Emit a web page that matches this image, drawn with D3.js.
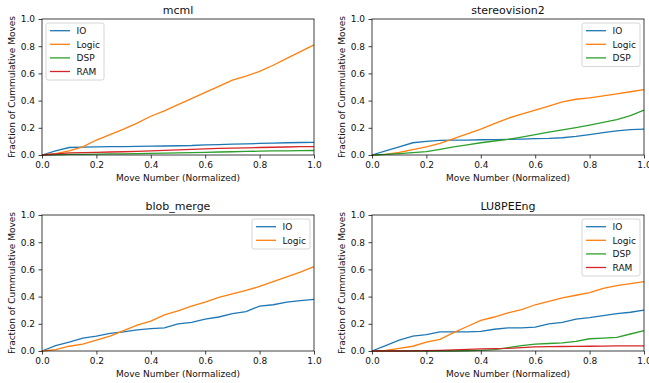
<!DOCTYPE html>
<meta charset="utf-8">
<head>
  <script src="https://d3js.org/d3.v7.min.js"></script>
  <style>
    body { margin: 0; background: white; }
    text { font-family: "DejaVu Sans", sans-serif; fill: #111; }
  </style>
</head>
<body>
<div id="chart"></div>
<script>
  // x positions of the samples (normalized move number)
  var xs = [0, 0.05, 0.1, 0.15, 0.2, 0.25, 0.3, 0.35, 0.4, 0.45, 0.5,
            0.55, 0.6, 0.65, 0.7, 0.75, 0.8, 0.85, 0.9, 0.95, 1.0];

  var mcmlIO    = [0, 0.03, 0.055, 0.058, 0.06, 0.061, 0.062, 0.063, 0.065, 0.066, 0.068, 0.07, 0.075, 0.077, 0.08, 0.082, 0.085, 0.087, 0.09, 0.092, 0.093];
  var mcmlLogic = [0, 0.01, 0.03, 0.06, 0.11, 0.15, 0.19, 0.235, 0.285, 0.325, 0.37, 0.415, 0.46, 0.505, 0.55, 0.58, 0.615, 0.66, 0.71, 0.76, 0.81];
  var mcmlDSP   = [0, 0.002, 0.004, 0.005, 0.006, 0.008, 0.009, 0.01, 0.012, 0.014, 0.016, 0.018, 0.02, 0.022, 0.024, 0.026, 0.028, 0.03, 0.031, 0.032, 0.033];
  var mcmlRAM   = [0, 0.008, 0.015, 0.018, 0.02, 0.022, 0.024, 0.027, 0.03, 0.034, 0.038, 0.041, 0.045, 0.048, 0.05, 0.053, 0.055, 0.057, 0.059, 0.061, 0.062];

  var stereoIO    = [0, 0.03, 0.06, 0.09, 0.1, 0.108, 0.11, 0.11, 0.112, 0.113, 0.115, 0.117, 0.12, 0.122, 0.127, 0.137, 0.15, 0.165, 0.178, 0.186, 0.19];
  var stereoLogic = [0, 0.005, 0.02, 0.04, 0.06, 0.085, 0.12, 0.155, 0.19, 0.23, 0.27, 0.3, 0.33, 0.36, 0.39, 0.41, 0.42, 0.435, 0.45, 0.465, 0.48];
  var stereoDSP   = [0, 0.004, 0.01, 0.017, 0.025, 0.042, 0.06, 0.075, 0.09, 0.103, 0.115, 0.132, 0.15, 0.168, 0.185, 0.202, 0.22, 0.24, 0.26, 0.29, 0.33];

  var blobIO    = [0, 0.04, 0.065, 0.095, 0.11, 0.13, 0.14, 0.155, 0.165, 0.17, 0.2, 0.21, 0.235, 0.25, 0.275, 0.29, 0.33, 0.34, 0.36, 0.37, 0.38];
  var blobLogic = [0, 0.01, 0.035, 0.05, 0.08, 0.11, 0.15, 0.19, 0.22, 0.265, 0.295, 0.33, 0.36, 0.395, 0.42, 0.445, 0.475, 0.51, 0.545, 0.58, 0.62];

  var luIO    = [0, 0.04, 0.08, 0.11, 0.12, 0.14, 0.14, 0.14, 0.145, 0.16, 0.17, 0.17, 0.175, 0.2, 0.21, 0.235, 0.245, 0.26, 0.275, 0.285, 0.3];
  var luLogic = [0, 0.005, 0.02, 0.035, 0.065, 0.085, 0.135, 0.18, 0.225, 0.25, 0.28, 0.305, 0.34, 0.365, 0.39, 0.41, 0.43, 0.46, 0.48, 0.495, 0.51];
  var luDSP   = [0, 0, 0, 0, 0, 0, 0, 0.002, 0.005, 0.01, 0.025, 0.04, 0.05, 0.055, 0.06, 0.07, 0.09, 0.095, 0.1, 0.125, 0.15];
  var luRAM   = [0, 0, 0, 0.001, 0.003, 0.005, 0.008, 0.012, 0.015, 0.018, 0.02, 0.025, 0.03, 0.032, 0.033, 0.034, 0.035, 0.036, 0.037, 0.038, 0.038];

  var ticks = [0, 0.2, 0.4, 0.6, 0.8, 1.0];
  var colors = { IO: "#1f77b4", Logic: "#ff7f0e", DSP: "#2ca02c", RAM: "#d62728" };

  var panels = [
    { title: "mcml", left: 42, top: 19, legend: "left",
      series: [["IO", mcmlIO], ["Logic", mcmlLogic], ["DSP", mcmlDSP], ["RAM", mcmlRAM]] },
    { title: "stereovision2", left: 372, top: 19, legend: "right",
      series: [["IO", stereoIO], ["Logic", stereoLogic], ["DSP", stereoDSP]] },
    { title: "blob_merge", left: 42, top: 215, legend: "right",
      series: [["IO", blobIO], ["Logic", blobLogic]] },
    { title: "LU8PEEng", left: 372, top: 215, legend: "right",
      series: [["IO", luIO], ["Logic", luLogic], ["DSP", luDSP], ["RAM", luRAM]] }
  ];

  var w = 272, h = 136;

  var svg = d3.select("#chart").append("svg")
    .attr("width", 649).attr("height", 383);

  panels.forEach(function (p) {
    var g = svg.append("g").attr("transform", "translate(" + p.left + "," + p.top + ")");
    var x = d3.scaleLinear().domain([0, 1]).range([0, w]);
    var y = d3.scaleLinear().domain([0, 1]).range([h, 0]);

    var line = d3.line()
      .x(function (d, i) { return x(xs[i]); })
      .y(function (d) { return y(d); });

    p.series.forEach(function (s) {
      g.append("path")
        .datum(s[1])
        .attr("d", line)
        .attr("fill", "none")
        .attr("stroke", colors[s[0]])
        .attr("stroke-width", 1.3);
    });

    var xa = g.append("g").attr("transform", "translate(0," + h + ")")
      .call(d3.axisBottom(x).tickValues(ticks).tickFormat(d3.format(".1f")).tickSize(3.5).tickPadding(3.5));
    var ya = g.append("g")
      .call(d3.axisLeft(y).tickValues(ticks).tickFormat(d3.format(".1f")).tickSize(3.5).tickPadding(3.5));
    [xa, ya].forEach(function (a) {
      a.select(".domain").remove();
      a.selectAll("line").attr("stroke", "#111").attr("stroke-width", 0.8);
      a.selectAll("text").style("font-size", "9px").attr("fill", "#111")
        .style("font-family", "'DejaVu Sans', sans-serif");
    });

    g.append("rect").attr("width", w).attr("height", h)
      .attr("fill", "none").attr("stroke", "#111").attr("stroke-width", 0.8);

    g.append("text").attr("x", w / 2).attr("y", -5)
      .attr("text-anchor", "middle").style("font-size", "11px").text(p.title);
    g.append("text").attr("x", w / 2).attr("y", h + 26)
      .attr("text-anchor", "middle").style("font-size", "9px").text("Move Number (Normalized)");
    g.append("text")
      .attr("transform", "translate(-27," + (h / 2) + ") rotate(-90)")
      .attr("text-anchor", "middle").style("font-size", "9px").text("Fraction of Cummulative Moves");

    // legend
    var n = p.series.length;
    var lw = 58;
    var lx = p.legend === "left" ? 4 : w - lw - 4;
    var lg = g.append("g").attr("transform", "translate(" + lx + ",4)");
    lg.append("rect").attr("width", lw).attr("height", 3 + n * 13.5)
      .attr("rx", 2).attr("fill", "white").attr("fill-opacity", 0.8)
      .attr("stroke", "#ccc").attr("stroke-width", 0.8);
    p.series.forEach(function (s, i) {
      var yy = 7.7 + i * 13.6;
      lg.append("line").attr("x1", 4).attr("x2", 24).attr("y1", yy).attr("y2", yy)
        .attr("stroke", colors[s[0]]).attr("stroke-width", 1.3);
      lg.append("text").attr("x", 30.5).attr("y", yy + 3.2)
        .style("font-size", "9px").text(s[0]);
    });
  });
</script>
</body>
</html>
